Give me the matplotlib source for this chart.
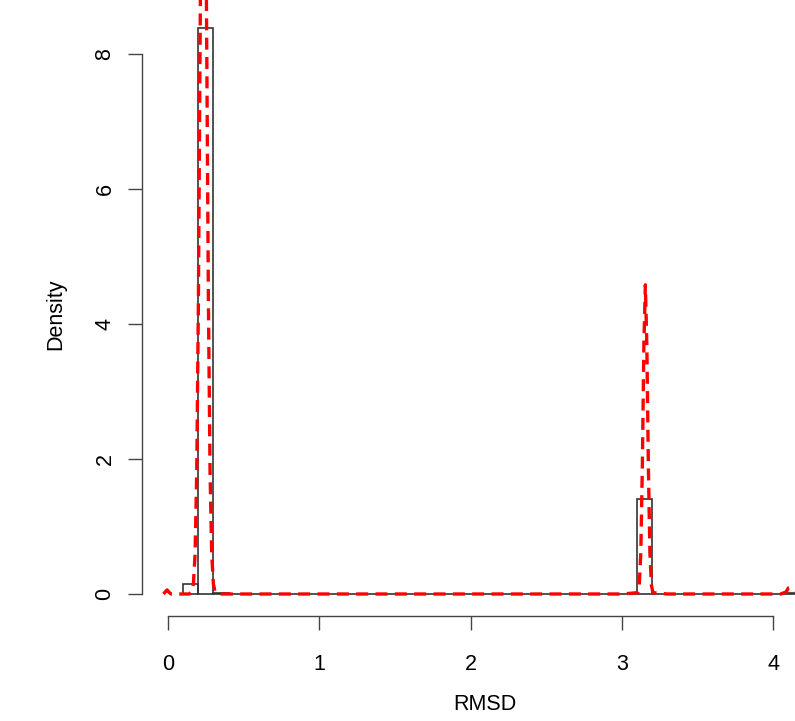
import numpy as np
import matplotlib
matplotlib.use('Agg')
import matplotlib.pyplot as plt

plt.rcParams['font.family'] = ['Liberation Sans', 'DejaVu Sans']

# histogram (bin width 0.1, density scale)
bin_edges_range = (0.1, 4.2)
bin_width = 0.1
nonzero_bin_left = [0.1, 0.2, 0.3, 3.1, 4.1]
nonzero_heights = [0.15, 8.39, 0.02, 1.41, 0.01]

# density curve
density_x = [-0.03, -0.015, -0.005, 0.005, 0.02, 0.05, 0.14, 0.157, 0.168, 0.179,
             0.190, 0.201, 0.212, 0.223, 0.234, 0.245, 0.256, 0.267, 0.278, 0.289,
             0.300, 0.311, 0.35, 3.0, 3.105, 3.115, 3.125, 3.135, 3.145, 3.155,
             3.165, 3.175, 3.185, 3.195, 3.205, 3.3, 4.05, 4.085, 4.1, 4.115,
             4.13, 4.16]
density_y = [0.0, 0.04, 0.06, 0.03, 0.0, 0.0, 0.0, 0.03, 0.15, 0.59,
             1.81, 4.35, 8.13, 11.83, 13.4, 11.83, 8.13, 4.35, 1.81, 0.59,
             0.15, 0.03, 0.0, 0.0, 0.02, 0.13, 0.62, 1.88, 3.67, 4.58,
             3.67, 1.88, 0.62, 0.13, 0.02, 0.0, 0.0, 0.03, 0.09, 0.1,
             0.07, 0.04]

x_ticks = [0, 1, 2, 3, 4]
y_ticks = [0, 2, 4, 6, 8]

edges = np.round(np.arange(bin_edges_range[0], bin_edges_range[1] - 1e-9, bin_width), 2)
heights = np.zeros(len(edges))
for b, h in zip(nonzero_bin_left, nonzero_heights):
    heights[np.argmin(np.abs(edges - b))] = h

W, H = 795, 721
fig = plt.figure(figsize=(W / 100, H / 100), dpi=100)
ax = fig.add_axes([142 / W, (H - 616) / H, 1 - 142 / W, 616 / H])

ax.bar(edges, heights, width=bin_width, align='edge', facecolor='none',
       edgecolor='#333333', linewidth=1.2, zorder=2)
ax.plot(density_x, density_y, color='red', lw=2.4, linestyle=(0, (3.6, 2.2)), zorder=3)

ax.set_xlim(-0.1718, 4.144)
ax.set_ylim(-0.326, 8.8)

for s in ['top', 'right']:
    ax.spines[s].set_visible(False)
ax.spines['left'].set_bounds(0, 8)
ax.spines['bottom'].set_bounds(0, 4)
for s in ['left', 'bottom']:
    ax.spines[s].set_color('#444444')
    ax.spines[s].set_linewidth(1.0)

ax.set_xticks(x_ticks)
ax.set_yticks(y_ticks)
ax.set_xticklabels([str(t) for t in x_ticks])
ax.set_yticklabels([str(t) for t in y_ticks], rotation=90, va='center')
ax.tick_params(axis='both', length=10, width=1.0, color='#444444', labelsize=15.5)
ax.tick_params(axis='x', pad=17)
ax.tick_params(axis='y', pad=9)

fig.text(485 / W, 1 - 705 / H, 'RMSD', fontsize=15.5, ha='center', va='center')
fig.text(56 / W, 1 - 314 / H, 'Density', fontsize=15.5, rotation=90,
         ha='center', va='center')

fig.savefig('out.png', dpi=100)
